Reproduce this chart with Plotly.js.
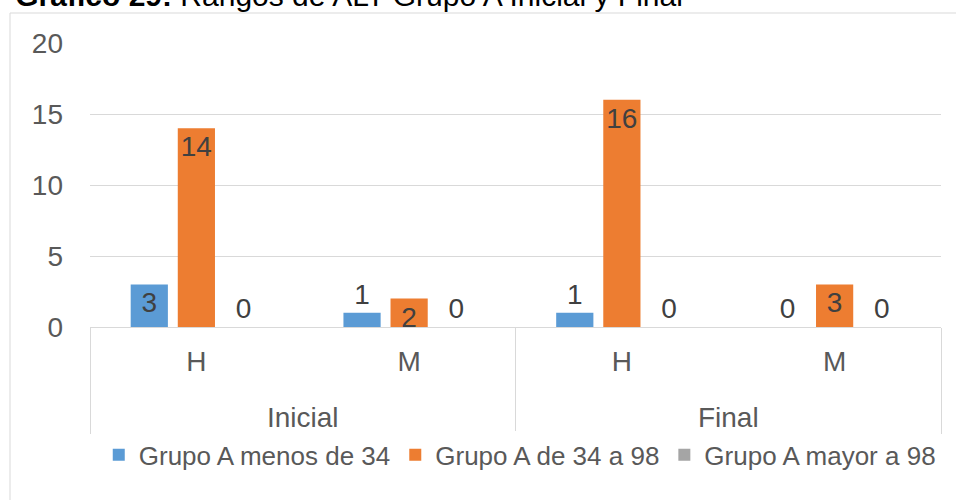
<!DOCTYPE html>
<html>
<head>
<meta charset="utf-8">
<script src="https://cdn.plot.ly/plotly-3.0.1.min.js"></script>
<style>html,body{margin:0;padding:0;background:#fff;}#chart{width:956px;height:500px;}</style>
</head>
<body>
<div id="chart"></div>
<script>
var periods = ["Inicial", "Inicial", "Final", "Final"];
var sexes = ["H", "M", "H", "M"];
var seriesNames = ["Grupo A menos de 34", "Grupo A de 34 a 98", "Grupo A mayor a 98"];
var menos34 = [3, 1, 1, 0];
var de34a98 = [14, 2, 16, 3];
var mayor98 = [0, 0, 0, 0];
var colors = ["#5B9BD5", "#ED7D31", "#A5A5A5"];

var FONT = "Liberation Sans, Arial, sans-serif";
function positions(vals) {
  return vals.map(function (v) { return v >= 2 ? "inside" : "outside"; });
}
function mk(name, vals, color) {
  return {
    type: "bar",
    name: name,
    x: [periods, sexes],
    y: vals,
    marker: { color: color },
    text: vals.map(String),
    textposition: positions(vals),
    insidetextanchor: "end",
    textangle: 0,
    constraintext: "none",
    cliponaxis: false,
    textfont: { family: FONT, size: 28, color: "#404040" },
    hoverinfo: "none"
  };
}
var data = [
  mk(seriesNames[0], menos34, colors[0]),
  mk(seriesNames[1], de34a98, colors[1]),
  mk(seriesNames[2], mayor98, colors[2])
];

var layout = {
  width: 956, height: 500,
  margin: { l: 90, r: 15, t: 43, b: 173 },
  paper_bgcolor: "#fff", plot_bgcolor: "#fff",
  font: { family: FONT, color: "#595959" },
  title: {
    text: "<b>Gráfico 29:</b> Rangos de ALT Grupo A Inicial y Final",
    font: { family: FONT, size: 30, color: "#000" },
    xref: "container", yref: "container",
    x: 0.016, xanchor: "left",
    y: 0.988, yanchor: "bottom"
  },
  barmode: "group",
  bargap: 0.336,
  bargroupgap: 0.21,
  xaxis: {
    type: "multicategory",
    showline: true, linecolor: "#D9D9D9", linewidth: 1,
    showdividers: true, dividercolor: "#D9D9D9", dividerwidth: 1,
    ticks: "", showgrid: false,
    ticklabelstandoff: 9,
    ticksuffix: "<br><span style=\"font-size:8px\">\u00a0</span>",
    tickfont: { family: FONT, size: 28, color: "#595959" }
  },
  yaxis: {
    range: [0, 20],
    tickvals: [0, 5, 10, 15, 20],
    ticktext: ["0", "5", "10", "15", "20"],
    showgrid: true, gridcolor: "#D9D9D9", gridwidth: 1,
    zeroline: false, showline: false, ticks: "",
    ticklabelstandoff: 26,
    tickfont: { family: FONT, size: 28, color: "#595959" }
  },
  showlegend: true,
  legend: {
    orientation: "h",
    x: 0.505, xanchor: "center",
    y: -0.45, yanchor: "middle",
    font: { family: FONT, size: 26, color: "#595959" },
    itemclick: false
  },
  shapes: [{
    type: "rect", xref: "paper", yref: "paper",
    x0: -0.094, x1: 1.2, y0: -0.8, y1: 1.1056,
    line: { color: "#D9D9D9", width: 1 }, fillcolor: "rgba(0,0,0,0)", layer: "below"
  }]
};

Plotly.newPlot("chart", data, layout, { displayModeBar: false, staticPlot: true });
</script>
</body>
</html>
